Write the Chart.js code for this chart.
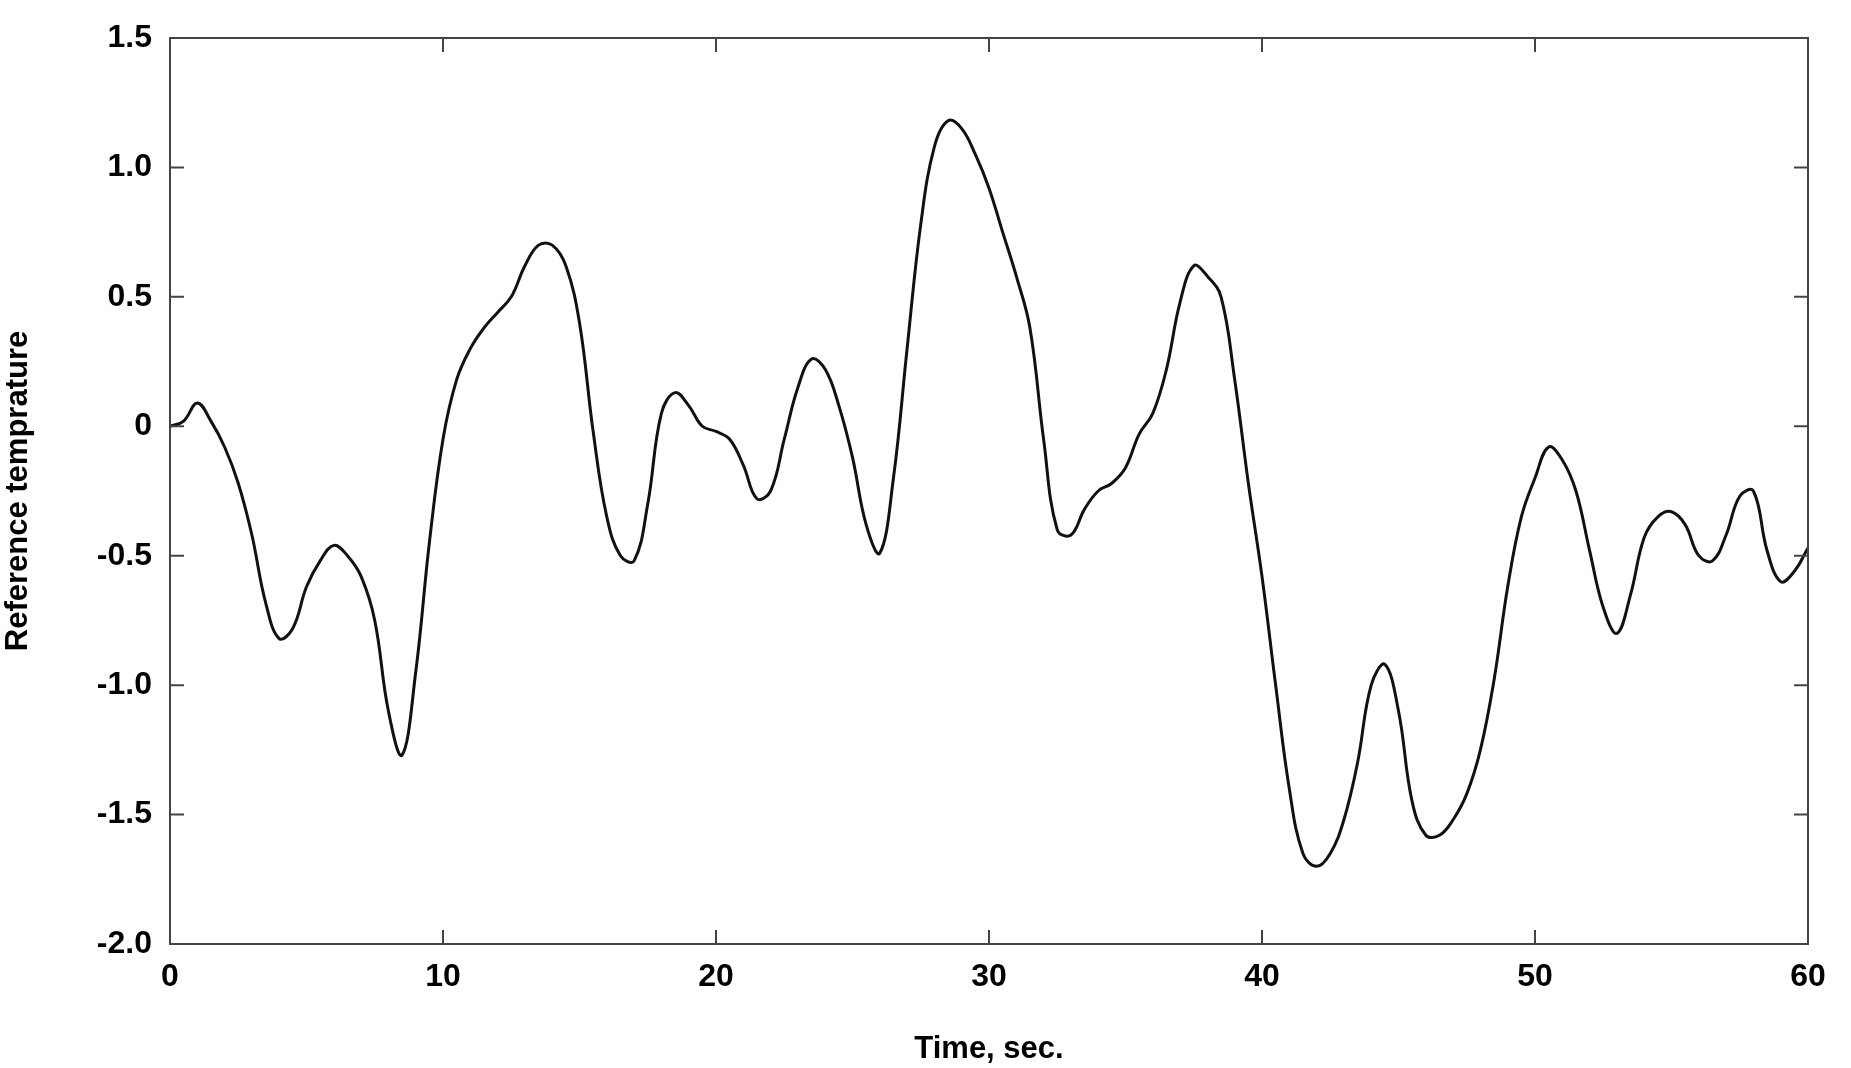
<!DOCTYPE html>
<html>
<head>
<meta charset="utf-8">
<script src="https://cdn.jsdelivr.net/npm/chart.js@4"></script>
<style>
  html, body { margin: 0; padding: 0; background: #fff; }
  #wrap { width: 1851px; height: 1068px; }
</style>
</head>
<body>
<div id="wrap"><canvas id="c"></canvas></div>
<script>
// время, с
const times = [0,0.5,1,1.5,2,2.5,3,3.5,4,4.5,5,5.5,6,6.5,7,7.5,8,8.5,9,9.5,
  10,10.5,11,11.5,12,12.5,13,13.5,14,14.5,15,15.5,16,16.5,17,17.5,18,18.5,19,19.5,
  20,20.5,21,21.5,22,22.5,23,23.5,24,24.5,25,25.5,26,26.5,27,27.5,28,28.5,29,29.5,
  30,30.5,31,31.5,32,32.5,33,33.5,34,34.5,35,35.5,36,36.5,37,37.5,38,38.5,39,39.5,
  40,40.5,41,41.5,42,42.5,43,43.5,44,44.5,45,45.5,46,46.5,47,47.5,48,48.5,49,49.5,
  50,50.5,51,51.5,52,52.5,53,53.5,54,54.5,55,55.5,56,56.5,57,57.5,58,58.5,59,59.5,60];
// опорная температура
const temps = [0,0.02,0.09,0.02,-0.08,-0.22,-0.42,-0.68,-0.82,-0.78,-0.62,-0.52,-0.46,-0.5,-0.58,-0.75,-1.1,-1.27,-0.95,-0.45,
  -0.05,0.18,0.3,0.38,0.44,0.5,0.62,0.7,0.7,0.62,0.4,-0.02,-0.35,-0.5,-0.52,-0.3,0.05,0.13,0.08,0,
  -0.02,-0.05,-0.15,-0.28,-0.25,-0.05,0.15,0.26,0.22,0.08,-0.12,-0.38,-0.49,-0.2,0.3,0.78,1.08,1.18,1.15,1.05,
  0.92,0.75,0.58,0.38,-0.05,-0.4,-0.42,-0.32,-0.25,-0.22,-0.16,-0.03,0.05,0.22,0.48,0.62,0.58,0.5,0.18,-0.22,
  -0.58,-1.0,-1.4,-1.65,-1.7,-1.65,-1.52,-1.3,-1.0,-0.92,-1.1,-1.45,-1.58,-1.58,-1.52,-1.42,-1.25,-0.98,-0.62,-0.35,
  -0.2,-0.08,-0.13,-0.25,-0.48,-0.7,-0.8,-0.65,-0.43,-0.35,-0.33,-0.38,-0.5,-0.52,-0.42,-0.27,-0.25,-0.48,-0.6,-0.56,-0.47];
const xTicks = [0,10,20,30,40,50,60];
const yTicks = [-2,-1.5,-1,-0.5,0,0.5,1,1.5];

const font = { family: "Liberation Sans", weight: "bold", size: 32 };

// рамка и внутренние засечки как в MATLAB
const frame = {
  id: "frame",
  afterDraw(chart) {
    const { ctx, chartArea: a, scales: { x, y } } = chart;
    ctx.save();
    ctx.strokeStyle = "#444"; ctx.lineWidth = 2;
    ctx.strokeRect(a.left, a.top, a.right - a.left, a.bottom - a.top);
    ctx.beginPath();
    xTicks.forEach(t => {
      const p = x.getPixelForValue(t);
      ctx.moveTo(p, a.bottom); ctx.lineTo(p, a.bottom - 14);
      ctx.moveTo(p, a.top); ctx.lineTo(p, a.top + 14);
    });
    yTicks.forEach(t => {
      const p = y.getPixelForValue(t);
      ctx.moveTo(a.left, p); ctx.lineTo(a.left + 14, p);
      ctx.moveTo(a.right, p); ctx.lineTo(a.right - 14, p);
    });
    ctx.stroke();
    ctx.restore();
  }
};

new Chart(document.getElementById("c"), {
  type: "line",
  data: {
    datasets: [{
      data: times.map((t, i) => ({ x: t, y: temps[i] })),
      borderColor: "#111", borderWidth: 3, pointRadius: 0, tension: 0.4, fill: false
    }]
  },
  options: {
    responsive: true, maintainAspectRatio: false, animation: false,
    layout: { padding: { top: 38, right: 43, left: 0, bottom: 0 } },
    plugins: { legend: { display: false }, tooltip: { enabled: false } },
    scales: {
      x: {
        type: "linear", min: 0, max: 60,
        afterBuildTicks: s => { s.ticks = xTicks.map(v => ({ value: v })); },
        afterFit: s => { s.height = 124; },
        grid: { display: false }, border: { display: false },
        ticks: { color: "#000", font, padding: 6, maxRotation: 0 },
        title: { display: true, text: "Time, sec.", color: "#000", font: { ...font, size: 31 }, padding: 0 }
      },
      y: {
        min: -2, max: 1.5,
        afterBuildTicks: s => { s.ticks = yTicks.map(v => ({ value: v })); },
        afterFit: s => { s.width = 170; },
        grid: { display: false }, border: { display: false },
        ticks: { color: "#000", font, padding: 10 },
        title: { display: true, text: "Reference temprature", color: "#000", font: { ...font, size: 31 }, padding: 0 }
      }
    }
  },
  plugins: [frame]
});
</script>
</body>
</html>
